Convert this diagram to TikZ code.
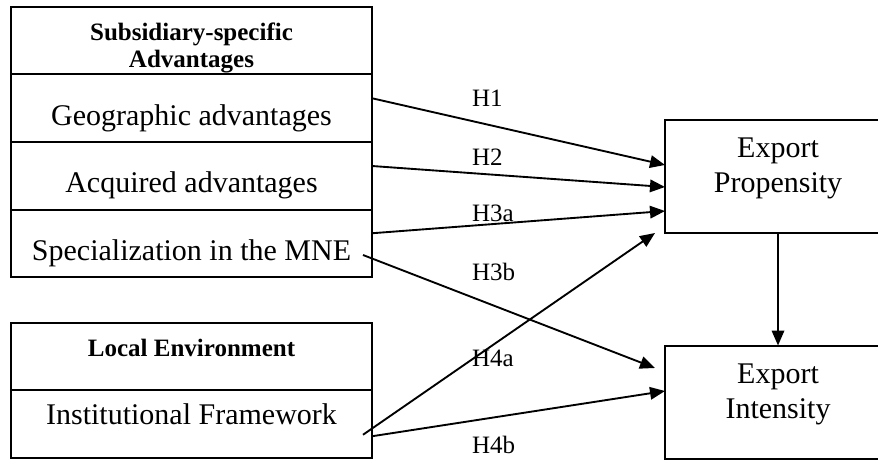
\documentclass[tikz,border=0pt]{standalone}
\usepackage{fontspec}
\setmainfont{Liberation Serif}
\usetikzlibrary{positioning,arrows.meta}

\begin{document}
\begin{tikzpicture}[x=0.4pt,y=-0.4pt,
  every node/.style={outer sep=0pt},
  cell/.style={draw,line width=0.8pt,minimum width=144.4pt,minimum height=27pt,inner sep=0pt,
    text height=13.6pt,text depth=0pt,font=\fontsize{12}{14}\selectfont},
  head/.style={cell,font=\fontsize{10}{11}\selectfont\bfseries,align=center},
  outcome/.style={draw,line width=0.8pt,minimum width=90.4pt,minimum height=45.2pt,inner sep=0pt,
    text height=13pt,text depth=0pt,align=center,font=\fontsize{12}{14}\selectfont},
  hyp/.style={-{Triangle[length=6pt,width=5pt]},line width=0.75pt},
  tag/.style={anchor=west,inner sep=0pt,font=\fontsize{10}{12}\selectfont}]
\useasboundingbox (0,0) rectangle (878,459);
\clip (0,0) rectangle (878,459);

% subsidiary-specific advantages
\node[head,text height=21.8pt] (ssa) at (191.5,40.75) {Subsidiary-specific\\Advantages};
\node[cell,below=0pt of ssa] (geo) {Geographic advantages};
\node[cell,below=0pt of geo] (acq) {Acquired advantages};
\node[cell,below=0pt of acq] (spec) {Specialization in the MNE};

% local environment
\node[head,text height=5pt,text depth=5pt] (env) at (191.5,356.5) {Local Environment};
\node[cell,below=0pt of env,text height=6pt,text depth=6pt] (inst) {Institutional Framework};

% outcomes
\node[outcome] (prop) at (778,176.5) {Export\\Propensity};
\node[outcome] (inten) at (778,402) {Export\\Intensity};

% hypotheses
\draw[hyp] ([yshift=4pt]geo.east) -- ([yshift=4.6pt]prop.west);
\draw[hyp] ([yshift=3.9pt]acq.east) -- ([yshift=-4.2pt]prop.west);
\draw[hyp] ([yshift=4pt]spec.east) -- ([yshift=-13.8pt]prop.west);
\draw[hyp] ([shift={(-3.6pt,-4.7pt)}]spec.east) -- ([shift={(-4pt,13.6pt)}]inten.west);
\draw[hyp] ([shift={(-3.6pt,-4.3pt)}]inst.east) -- ([xshift=-4pt]prop.south west);
\draw[hyp] ([yshift=-4.9pt]inst.east) -- ([yshift=4.4pt]inten.west);
\draw[hyp] (prop) -- (inten);

\node[tag] (h1) at (472,98) {H1};
\node[tag] (h2) at (472,157) {H2};
\node[tag] (h3a) at (472,213) {H3a};
\node[tag] (h3b) at (472,272) {H3b};
\node[tag] (h4a) at (472,358) {H4a};
\node[tag] (h4b) at (472,445) {H4b};
\end{tikzpicture}
\end{document}
